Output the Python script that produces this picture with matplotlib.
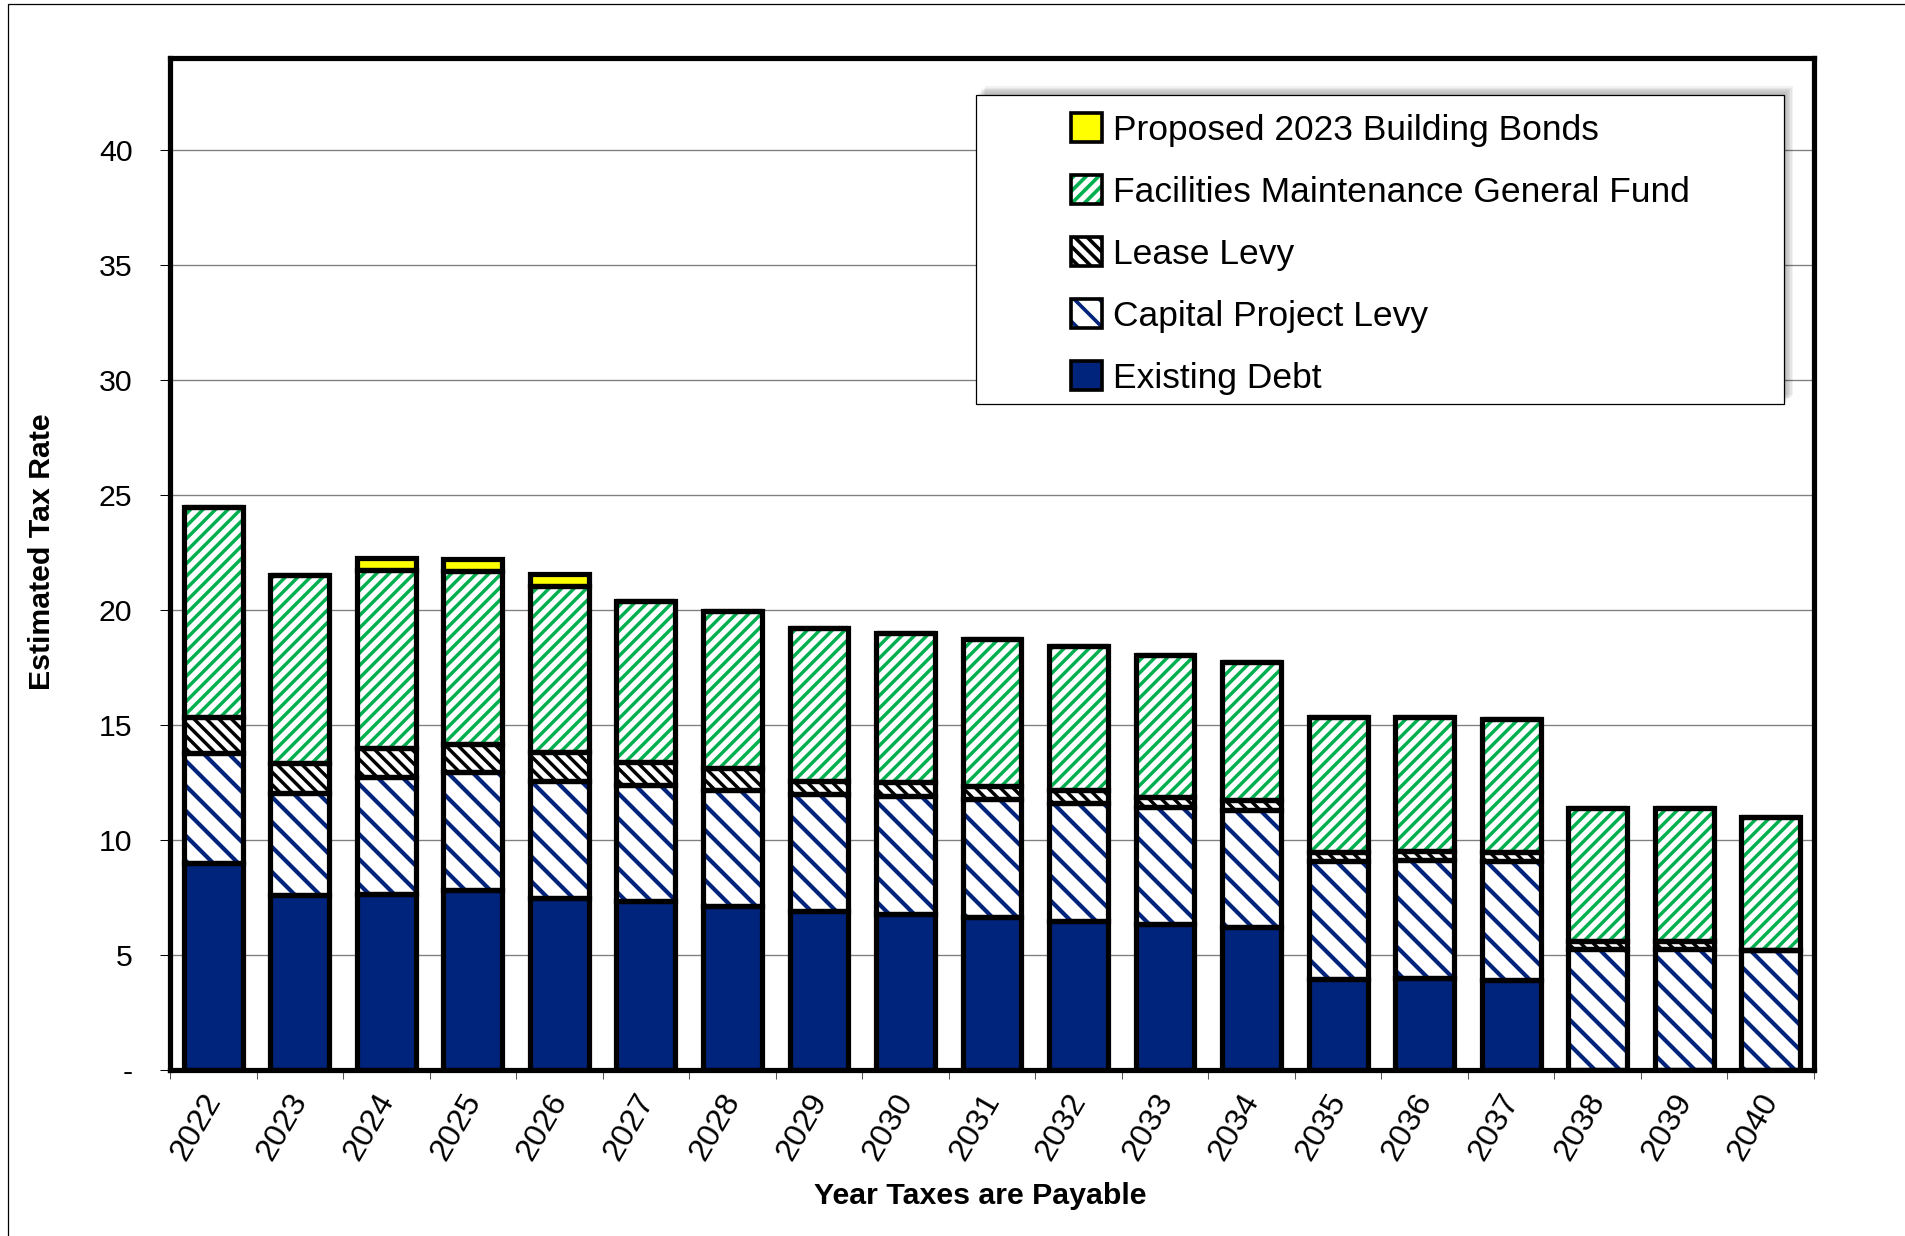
import numpy as np
import matplotlib
matplotlib.use('Agg')
import matplotlib.pyplot as plt
from matplotlib.patches import Rectangle, Patch
from matplotlib.legend_handler import HandlerTuple
from matplotlib.transforms import ScaledTranslation

plt.rcParams['font.family'] = ['Liberation Sans', 'DejaVu Sans']
plt.rcParams['hatch.linewidth'] = 3.5

# ~~~~~~~~~~~~~~~~~~~~~~~~~~~~~~~~~~~~~~~~~~~~~~~~~~~~~~~~~~~~~~~~~~~~~~~~
# data

years = [2022, 2023, 2024, 2025, 2026, 2027, 2028, 2029, 2030, 2031,
         2032, 2033, 2034, 2035, 2036, 2037, 2038, 2039, 2040]

existing_debt = [9.00, 7.62, 7.65, 7.83, 7.50, 7.36, 7.14, 6.93, 6.78, 6.64,
                 6.48, 6.33, 6.23, 3.96, 3.99, 3.91, 0.00, 0.00, 0.00]
capital_levy = [4.80, 4.42, 5.07, 5.11, 5.08, 5.03, 5.03, 5.07, 5.12, 5.14,
                5.11, 5.12, 5.07, 5.14, 5.14, 5.19, 5.25, 5.25, 5.22]
lease_levy = [1.55, 1.31, 1.28, 1.25, 1.23, 0.98, 0.96, 0.58, 0.61, 0.58,
              0.58, 0.43, 0.44, 0.36, 0.41, 0.36, 0.37, 0.37, 0.00]
facilities = [9.15, 8.19, 7.73, 7.50, 7.25, 7.03, 6.84, 6.64, 6.49, 6.38,
              6.26, 6.16, 6.01, 5.87, 5.82, 5.79, 5.76, 5.76, 5.77]
bonds = [0.00, 0.00, 0.54, 0.51, 0.52, 0.00, 0.00, 0.00, 0.00, 0.00,
         0.00, 0.00, 0.00, 0.00, 0.00, 0.00, 0.00, 0.00, 0.00]

labels = ['Existing Debt', 'Capital Project Levy', 'Lease Levy',
          'Facilities Maintenance General Fund', 'Proposed 2023 Building Bonds']

ytick_labels = ['-', '5', '10', '15', '20', '25', '30', '35', '40']

# ~~~~~~~~~~~~~~~~~~~~~~~~~~~~~~~~~~~~~~~~~~~~~~~~~~~~~~~~~~~~~~~~~~~~~~~~

NAVY = '#00237B'
GREEN = '#00B050'

# (values, facecolor, hatch, hatch colour, hatch width)
styles = [
    (existing_debt, NAVY, None, NAVY, 0),
    (capital_levy, 'white', '\\', NAVY, 4.0),
    (lease_levy, 'white', '\\\\', 'black', 3.3),
    (facilities, 'white', '//', GREEN, 3.3),
    (bonds, '#FFFF00', None, '#FFFF00', 0),
]

DPI = 75
W, H = 1905, 1236


def fx(px):
    return px / W


def fy(py):
    return 1 - py / H


def hatch_width(patch, lw):
    if lw and hasattr(patch, 'set_hatch_linewidth'):
        patch.set_hatch_linewidth(lw)


fig = plt.figure(figsize=(W / DPI, H / DPI), dpi=DPI)
ax = fig.add_axes([fx(170), fy(1070), fx(1814) - fx(170), fy(58) - fy(1070)])

x = np.arange(len(years))
width = 0.68
bottom = np.zeros(len(years))
handles = []
for (vals, face, hatch, hcol, hlw), lab in zip(styles, labels):
    vals = np.array(vals)
    fill = ax.bar(x, vals, width, bottom=bottom, color=face, edgecolor=hcol,
                  hatch=hatch, linewidth=0, zorder=2)
    for b in fill:
        hatch_width(b, hlw)
    ax.bar(x, vals, width, bottom=bottom, facecolor='none', edgecolor='black',
           linewidth=5, zorder=3)
    bottom += vals

    p1 = Patch(facecolor=face, edgecolor=hcol, hatch=hatch, linewidth=0)
    hatch_width(p1, hlw)
    p2 = Patch(facecolor='none', edgecolor='black', linewidth=3.5)
    handles.append(((p1, p2), lab))

# axes
ax.set_xlim(-0.5, len(years) - 0.5)
ax.set_ylim(0, 44)
ax.set_yticks(np.arange(0, 41, 5))
ax.set_yticklabels(ytick_labels)
ax.tick_params(axis='y', length=10, width=1, pad=26, labelsize=29)

ax.set_xticks(x)
ax.set_xticklabels(years, rotation=60, ha='right', va='center',
                   rotation_mode='anchor', fontsize=31)
ax.tick_params(axis='x', which='major', length=0, pad=25)
ax.set_xticks(np.arange(len(years) + 1) - 0.5, minor=True)
ax.tick_params(axis='x', which='minor', length=9, width=1, color='#555555')
shift = ScaledTranslation(1 / DPI, 0, fig.dpi_scale_trans)
for t in ax.get_xticklabels():
    t.set_transform(t.get_transform() + shift)

ax.set_axisbelow(True)
ax.yaxis.grid(True, color='#808080', linewidth=1.3)
for s in ax.spines.values():
    s.set_linewidth(5)
    s.set_color('black')

fig.text(fx(42), fy(552), 'Estimated Tax Rate', rotation=90, ha='center',
         va='center', fontsize=29, fontweight='bold')
fig.text(fx(980), fy(1196), 'Year Taxes are Payable', ha='center',
         va='center', fontsize=29, fontweight='bold')

# legend box with a soft shadow
bx0, by0, bx1, by1 = 976, 95, 1784, 404
for i in range(1, 7):
    ax.add_patch(Rectangle((fx(bx0 + i * 1.5), fy(by1 - i * 1.5)),
                           fx(bx1) - fx(bx0), fy(by0) - fy(by1),
                           transform=fig.transFigure, facecolor='black',
                           edgecolor='none', alpha=0.05, zorder=3.9,
                           clip_on=False))
ax.add_patch(Rectangle((fx(bx0), fy(by1)), fx(bx1) - fx(bx0), fy(by0) - fy(by1),
                       transform=fig.transFigure, facecolor='white',
                       edgecolor='black', linewidth=1.2, zorder=4, clip_on=False))

handles = handles[::-1]
leg = ax.legend([h for h, _ in handles], [l for _, l in handles],
                handler_map={tuple: HandlerTuple(ndivide=1, pad=0)},
                loc='upper left', bbox_to_anchor=(fx(1071), fy(113)),
                bbox_transform=fig.transFigure, frameon=False, fontsize=34,
                handlelength=0.88, handleheight=0.88, handletextpad=0.3,
                labelspacing=0.80, borderpad=0, borderaxespad=0)
leg.set_zorder(5)

# outer frame of the picture
fig.add_artist(Rectangle((fx(8), fy(1300)), 1.5, fy(4) - fy(1300),
                         transform=fig.transFigure, fill=False,
                         edgecolor='black', linewidth=1.2))

fig.savefig('out.png', dpi=DPI)
